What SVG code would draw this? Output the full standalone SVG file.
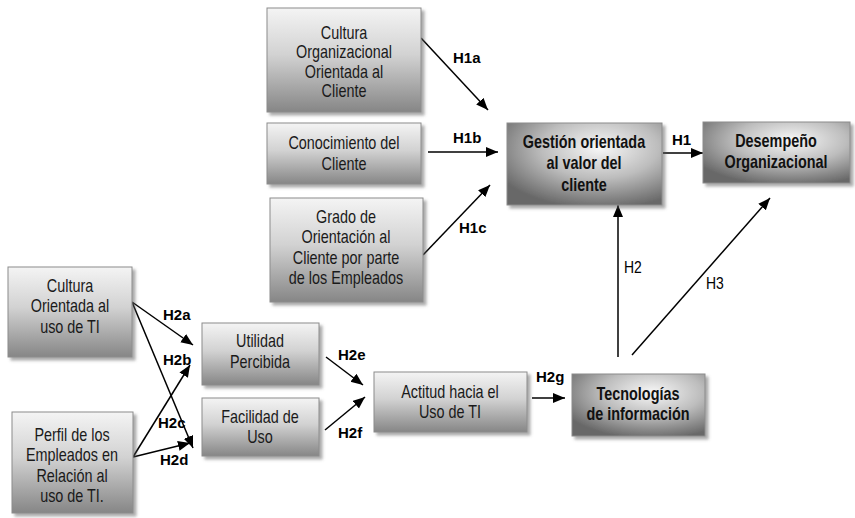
<svg xmlns="http://www.w3.org/2000/svg" width="855" height="518" viewBox="0 0 855 518">
<style>
.box{stroke:#8c8c8c;stroke-width:1;fill:url(#g1);filter:url(#sh)}
.bbox{stroke:#8c8c8c;stroke-width:1;fill:url(#g2);filter:url(#sh)}
.t{font-family:"Liberation Sans",Arial,sans-serif;font-size:18px;fill:#1a1a1a;text-anchor:middle}
.tb{font-family:"Liberation Sans",Arial,sans-serif;font-size:18px;font-weight:bold;fill:#111;text-anchor:middle}
.lb{font-family:"Liberation Sans",Arial,sans-serif;font-size:15px;font-weight:bold;fill:#000}
.lr{font-family:"Liberation Sans",Arial,sans-serif;font-size:17px;fill:#000}
.c{stroke:#000;stroke-width:1.5;fill:none;marker-end:url(#ah)}
</style>
<defs>
<linearGradient id="g1" x1="0" y1="0" x2="0" y2="1">
<stop offset="0" stop-color="#f4f4f4"/>
<stop offset="0.45" stop-color="#d2d2d2"/>
<stop offset="1" stop-color="#868686"/>
</linearGradient>
<radialGradient id="g2" cx="0.6" cy="0.3" r="0.75">
<stop offset="0" stop-color="#f8f8f8"/>
<stop offset="0.5" stop-color="#bdbdbd"/>
<stop offset="1" stop-color="#676767"/>
</radialGradient>
<filter id="sh" x="-10%" y="-10%" width="125%" height="130%">
<feDropShadow dx="3" dy="3" stdDeviation="1.5" flood-color="#555" flood-opacity="0.5"/>
</filter>
<marker id="ah" markerUnits="userSpaceOnUse" markerWidth="13" markerHeight="11" refX="12" refY="5" orient="auto">
<path d="M0,0 L12,5 L0,10 z" fill="#000"/>
</marker>
</defs>

<g id="connectors">
<line class="c" x1="421" y1="38" x2="488" y2="110"/>
<line class="c" x1="428" y1="152" x2="498" y2="152"/>
<line class="c" x1="423" y1="255" x2="490" y2="185"/>
<line class="c" x1="663" y1="153" x2="703" y2="153"/>
<line class="c" x1="618" y1="357" x2="618" y2="205"/>
<line class="c" x1="632" y1="355" x2="770" y2="198"/>
<line class="c" x1="132" y1="302" x2="193" y2="345"/>
<line class="c" x1="132" y1="302" x2="193" y2="448"/>
<line class="c" x1="133" y1="457" x2="190" y2="365"/>
<line class="c" x1="133" y1="457" x2="190" y2="443"/>
<line class="c" x1="326" y1="357" x2="363" y2="385"/>
<line class="c" x1="325" y1="430" x2="365" y2="397"/>
<line class="c" x1="532" y1="398" x2="565" y2="398"/>
<text class="lb" x="453" y="63">H1a</text>
<text class="lb" x="453" y="143">H1b</text>
<text class="lb" x="459" y="233">H1c</text>
<text class="lb" x="672" y="145">H1</text>
<text class="lr" transform="translate(624 273) scale(0.82 1)">H2</text>
<text class="lr" transform="translate(706 289) scale(0.82 1)">H3</text>
<text class="lb" x="163" y="320">H2a</text>
<text class="lb" x="163" y="365">H2b</text>
<text class="lb" x="158" y="428">H2c</text>
<text class="lb" x="160" y="465">H2d</text>
<text class="lb" x="338" y="360">H2e</text>
<text class="lb" x="338" y="438">H2f</text>
<text class="lb" x="536" y="382">H2g</text>
</g>

<g id="n-cultura-org">
<rect class="box" x="267" y="8" width="154" height="104"/>
<g transform="translate(344 0) scale(0.8 1)">
<text class="t" x="0" y="39">Cultura</text>
<text class="t" x="0" y="58.5">Organizacional</text>
<text class="t" x="0" y="78">Orientada al</text>
<text class="t" x="0" y="97.5">Cliente</text>
</g>
</g>
<g id="n-conocimiento">
<rect class="box" x="267" y="123" width="154" height="61"/>
<g transform="translate(344 0) scale(0.8 1)">
<text class="t" x="0" y="149">Conocimiento del</text>
<text class="t" x="0" y="170">Cliente</text>
</g>
</g>
<g id="n-grado">
<rect class="box" x="270" y="198" width="153" height="104"/>
<g transform="translate(346 0) scale(0.8 1)">
<text class="t" x="0" y="223">Grado de</text>
<text class="t" x="0" y="243.5">Orientación al</text>
<text class="t" x="0" y="264">Cliente por parte</text>
<text class="t" x="0" y="284.5">de los Empleados</text>
</g>
</g>
<g id="n-gestion">
<rect class="bbox" x="507" y="123" width="155" height="82"/>
<g transform="translate(584 0) scale(0.8 1)">
<text class="tb" x="0" y="148">Gestión orientada</text>
<text class="tb" x="0" y="169.5">al valor del</text>
<text class="tb" x="0" y="191">cliente</text>
</g>
</g>
<g id="n-desempeno">
<rect class="bbox" x="703" y="122" width="147" height="61"/>
<g transform="translate(776 0) scale(0.8 1)">
<text class="tb" x="0" y="147">Desempeño</text>
<text class="tb" x="0" y="168">Organizacional</text>
</g>
</g>
<g id="n-cultura-ti">
<rect class="box" x="8" y="267" width="124" height="90"/>
<g transform="translate(70 0) scale(0.8 1)">
<text class="t" x="0" y="292">Cultura</text>
<text class="t" x="0" y="312.5">Orientada al</text>
<text class="t" x="0" y="333">uso de TI</text>
</g>
</g>
<g id="n-perfil">
<rect class="box" x="12" y="412" width="121" height="101"/>
<g transform="translate(72 0) scale(0.8 1)">
<text class="t" x="0" y="441">Perfil de los</text>
<text class="t" x="0" y="461.5">Empleados en</text>
<text class="t" x="0" y="482">Relación al</text>
<text class="t" x="0" y="502.5">uso de TI.</text>
</g>
</g>
<g id="n-utilidad">
<rect class="box" x="202" y="323" width="117" height="62"/>
<g transform="translate(260 0) scale(0.8 1)">
<text class="t" x="0" y="347">Utilidad</text>
<text class="t" x="0" y="368">Percibida</text>
</g>
</g>
<g id="n-facilidad">
<rect class="box" x="202" y="398" width="117" height="58"/>
<g transform="translate(260 0) scale(0.8 1)">
<text class="t" x="0" y="423">Facilidad de</text>
<text class="t" x="0" y="443">Uso</text>
</g>
</g>
<g id="n-actitud">
<rect class="box" x="374" y="372" width="153" height="60"/>
<g transform="translate(450 0) scale(0.8 1)">
<text class="t" x="0" y="398">Actitud hacia el</text>
<text class="t" x="0" y="418">Uso de TI</text>
</g>
</g>
<g id="n-tecnologias">
<rect class="bbox" x="572" y="374" width="133" height="62"/>
<g transform="translate(638 0) scale(0.8 1)">
<text class="tb" x="0" y="400">Tecnologías</text>
<text class="tb" x="0" y="420">de información</text>
</g>
</g>
</svg>
